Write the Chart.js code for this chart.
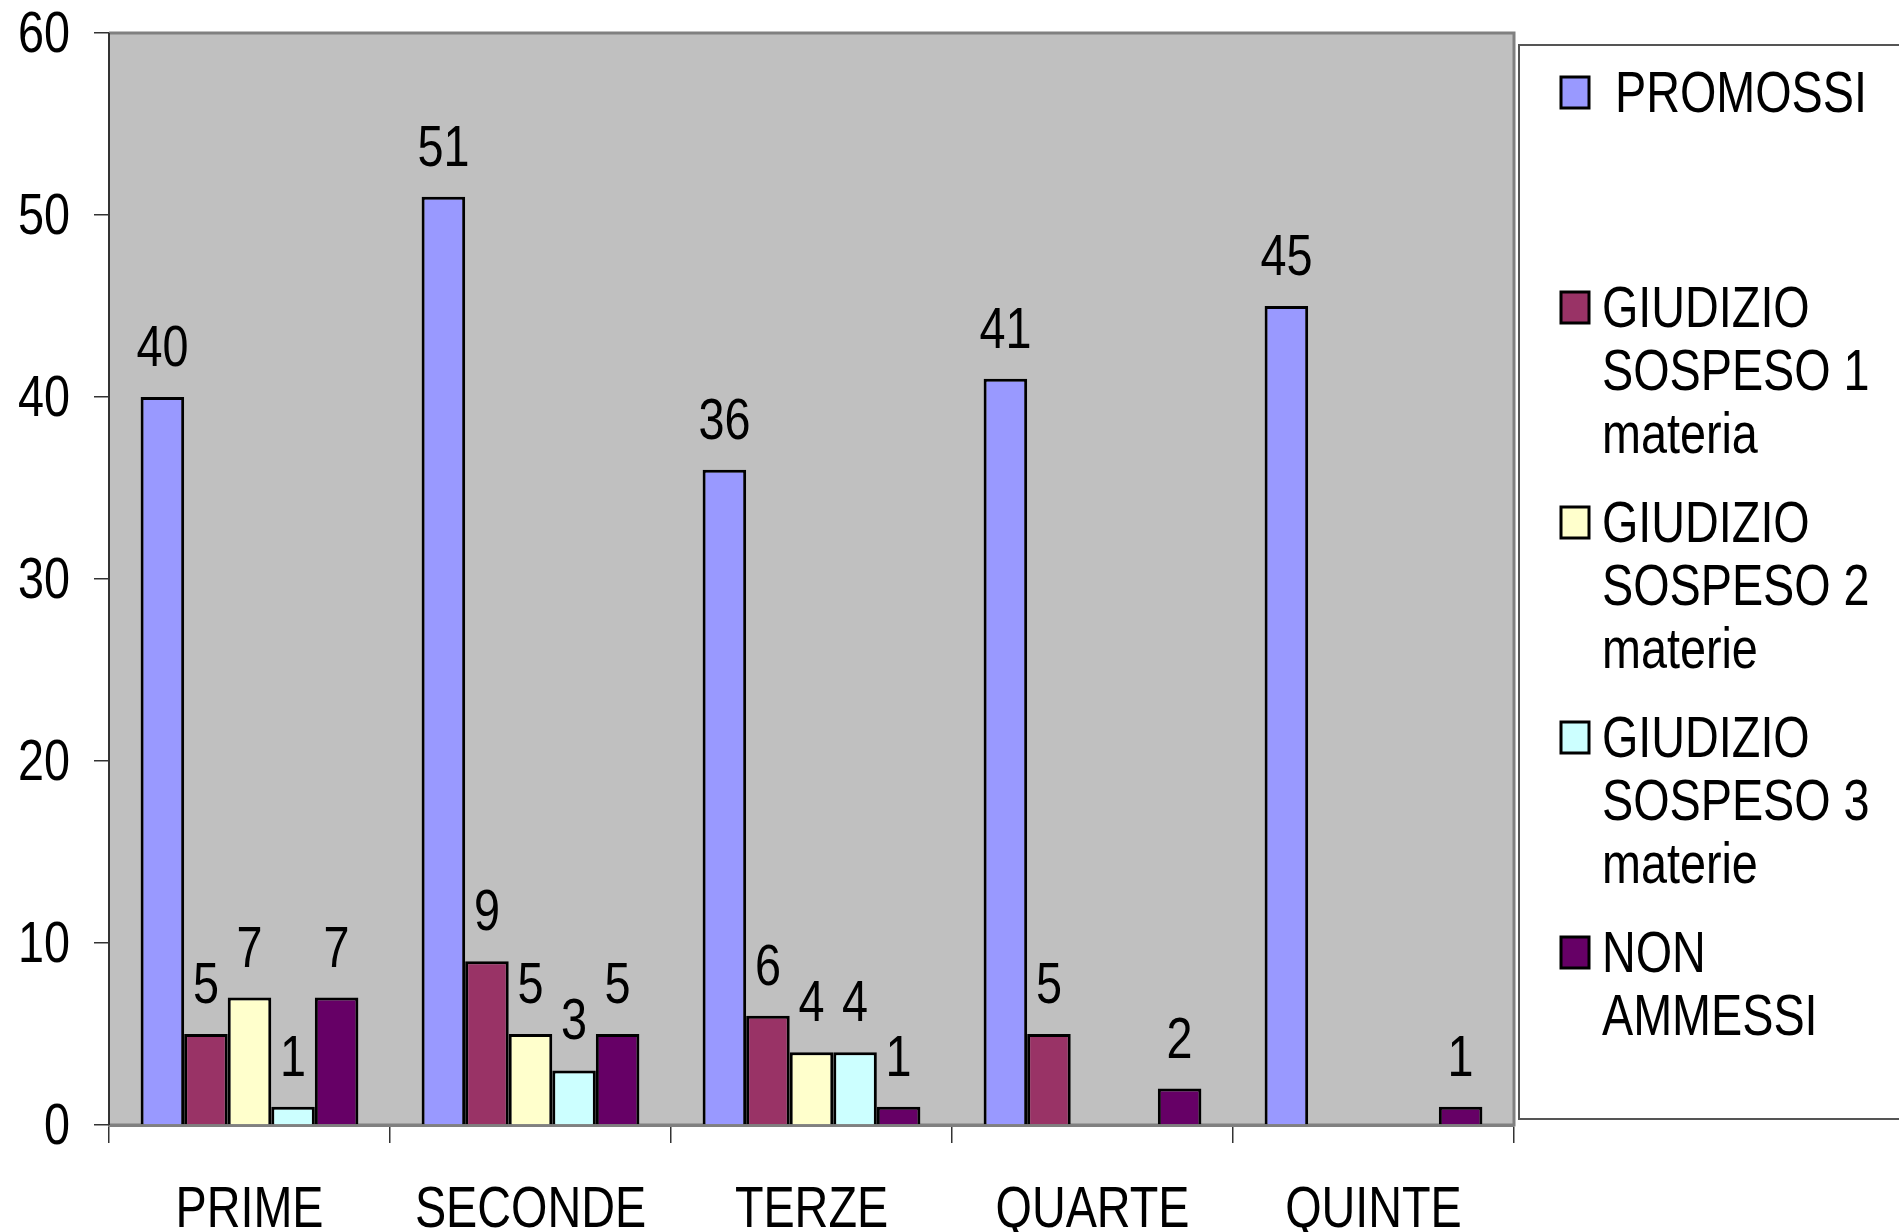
<!DOCTYPE html>
<html>
<head>
<meta charset="utf-8">
<script src="https://cdn.jsdelivr.net/npm/chart.js@4.4.0/dist/chart.umd.min.js"></script>
<style>
  html, body { margin: 0; padding: 0; background: #ffffff; }
  #wrap { width: 1899px; height: 1232px; position: relative; }
</style>
</head>
<body>
<div id="wrap"><canvas id="esitiChart"></canvas></div>
<script>
const classi = ["PRIME", "SECONDE", "TERZE", "QUARTE", "QUINTE"];
const promossi = [40, 51, 36, 41, 45];
const sospeso1 = [5, 9, 6, 5, null];
const sospeso2 = [7, 5, 4, null, null];
const sospeso3 = [1, 3, 4, null, null];
const nonAmmessi = [7, 5, 1, 2, 1];
const yTicks = [0, 10, 20, 30, 40, 50, 60];

const seriesNames = ["PROMOSSI", "GIUDIZIO SOSPESO 1 materia", "GIUDIZIO SOSPESO 2 materie", "GIUDIZIO SOSPESO 3 materie", "NON AMMESSI"];
const legendLines = [[" PROMOSSI"], ["GIUDIZIO", "SOSPESO 1", "materia"], ["GIUDIZIO", "SOSPESO 2", "materie"], ["GIUDIZIO", "SOSPESO 3", "materie"], ["NON", "AMMESSI"]];
const seriesColors = ["#9999ff", "#993366", "#ffffcc", "#ccffff", "#660066"];

const FONT = "'Liberation Sans', Arial, sans-serif";
const FSIZE = 57;
const SQUEEZE = 0.82;   // no narrow font installed, so squeeze the text by hand

function narrowText(ctx, text, x, y, align) {
    ctx.save();
    ctx.translate(x, y);
    ctx.scale(SQUEEZE, 1);
    ctx.font = FSIZE + 'px ' + FONT;
    ctx.fillStyle = '#000';
    ctx.textAlign = align;
    ctx.textBaseline = 'alphabetic';
    ctx.fillText(text, 0, 0);
    ctx.restore();
}

// grey plot area + frame
const plotFrame = {
    id: 'plotFrame',
    beforeDatasetsDraw(chart) {
        const a = chart.chartArea, ctx = chart.ctx;
        ctx.save();
        ctx.fillStyle = '#c0c0c0';
        ctx.fillRect(a.left, a.top, a.right - a.left, a.bottom - a.top);
        ctx.strokeStyle = '#808080';
        ctx.lineWidth = 3;
        ctx.beginPath();
        ctx.moveTo(a.left, a.top);
        ctx.lineTo(a.right, a.top);
        ctx.lineTo(a.right, a.bottom);
        ctx.lineTo(a.left, a.bottom);
        ctx.stroke();
        ctx.strokeStyle = '#333333';
        ctx.lineWidth = 2;
        ctx.beginPath();
        ctx.moveTo(a.left, a.top);
        ctx.lineTo(a.left, a.bottom);
        ctx.stroke();
        ctx.restore();
    }
};

// axis tick labels, placed with the chart's own scales
const axisLabels = {
    id: 'axisLabels',
    afterDraw(chart) {
        const ctx = chart.ctx;
        const xs = chart.scales.x, ys = chart.scales.y;
        yTicks.forEach(v => {
            narrowText(ctx, String(v), 70, ys.getPixelForValue(v) + 19, 'right');
        });
        classi.forEach((c, i) => {
            narrowText(ctx, c, xs.getPixelForValue(i), 1227, 'center');
        });
    }
};

// numbers above bars
const valueLabels = {
    id: 'valueLabels',
    afterDatasetsDraw(chart) {
        const ctx = chart.ctx;
        chart.data.datasets.forEach((ds, i) => {
            chart.getDatasetMeta(i).data.forEach((bar, j) => {
                if (ds.data[j] == null) return;
                narrowText(ctx, String(ds.data[j]), bar.x, bar.y - 31, 'center');
            });
        });
    }
};

// legend box on the right
const sideLegend = {
    id: 'sideLegend',
    afterDraw(chart) {
        const ctx = chart.ctx;
        ctx.save();
        ctx.fillStyle = '#ffffff';
        ctx.fillRect(1519, 45, 400, 1074);
        ctx.strokeStyle = '#555555';
        ctx.lineWidth = 2;
        ctx.strokeRect(1519, 45, 400, 1074);
        legendLines.forEach((lines, i) => {
            const cy = 92 + i * 215;
            ctx.fillStyle = seriesColors[i];
            ctx.fillRect(1561, cy - 15, 28, 31);
            ctx.strokeStyle = '#000';
            ctx.lineWidth = 3;
            ctx.strokeRect(1561, cy - 15, 28, 31);
            lines.forEach((t, k) => {
                narrowText(ctx, t, 1602, cy + k * 63 + 20, 'left');
            });
        });
        ctx.restore();
    }
};

const allSeries = [promossi, sospeso1, sospeso2, sospeso3, nonAmmessi];

new Chart(document.getElementById('esitiChart'), {
    type: 'bar',
    data: {
        labels: classi,
        datasets: allSeries.map((vals, i) => ({
            label: seriesNames[i],
            data: vals,
            backgroundColor: seriesColors[i],
            borderColor: '#000000',
            borderWidth: 3,
            borderSkipped: 'bottom',
            categoryPercentage: 0.775,
            barPercentage: 1.0
        }))
    },
    options: {
        responsive: true,
        maintainAspectRatio: false,
        animation: false,
        layout: { padding: { left: 0, top: 33, right: 385, bottom: 0 } },
        plugins: {
            legend: { display: false },
            tooltip: { enabled: false }
        },
        scales: {
            x: {
                grid: {
                    offset: true,
                    drawOnChartArea: false,
                    drawTicks: true,
                    tickLength: 18,
                    color: '#333333',
                    lineWidth: 1.5
                },
                border: { display: true, color: '#808080', width: 3 },
                ticks: { display: false, autoSkip: false },
                afterFit(scale) { scale.height = 107; }
            },
            y: {
                min: 0,
                max: 60,
                afterBuildTicks(scale) { scale.ticks = yTicks.map(v => ({ value: v })); },
                grid: {
                    drawOnChartArea: false,
                    drawTicks: true,
                    tickLength: 15,
                    color: '#333333',
                    lineWidth: 1.5
                },
                border: { display: true, color: '#333333', width: 2 },
                ticks: { display: false },
                afterFit(scale) { scale.width = 109; }
            }
        }
    },
    plugins: [plotFrame, valueLabels, axisLabels, sideLegend]
});
</script>
</body>
</html>
